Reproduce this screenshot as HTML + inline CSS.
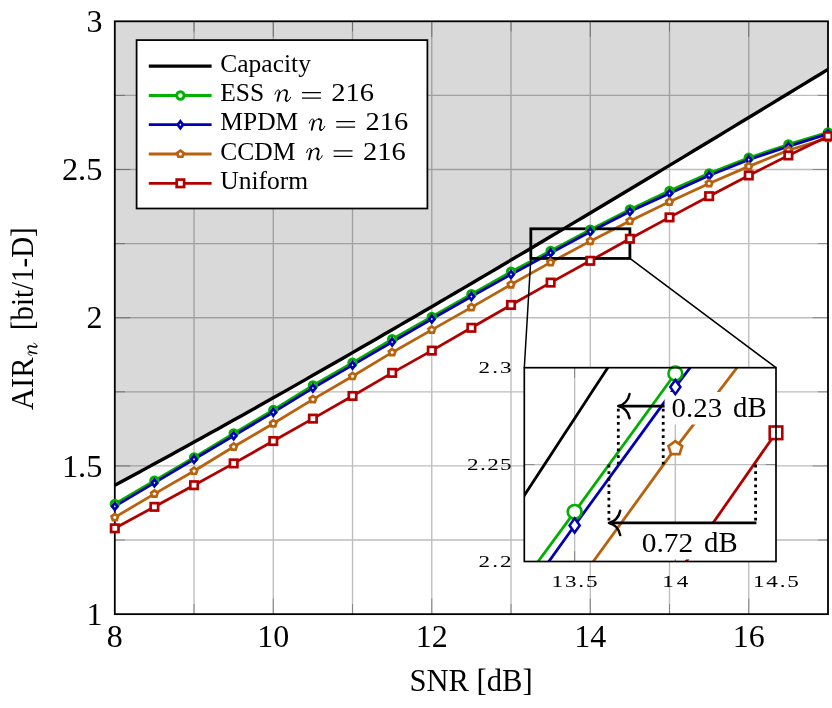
<!DOCTYPE html>
<html><head><meta charset="utf-8"><title>AIR vs SNR</title>
<style>html,body{margin:0;padding:0;background:#fff}svg{display:block;will-change:transform}</style></head>
<body>
<svg width="832" height="708" viewBox="0 0 832 708">
<defs>
<clipPath id="cm"><rect x="114.8" y="21.3" width="713.2" height="592.85"/></clipPath>
<clipPath id="ci"><rect x="524.3" y="367.7" width="251.7" height="193.8"/></clipPath>
</defs>
<rect width="832" height="708" fill="#fff"/>
<path d="M194.04 21.3V614.15M273.29 21.3V614.15M352.53 21.3V614.15M431.78 21.3V614.15M511.02 21.3V614.15M590.27 21.3V614.15M669.51 21.3V614.15M748.76 21.3V614.15M114.8 540.04H828M114.8 465.94H828M114.8 391.83H828M114.8 317.72H828M114.8 243.62H828M114.8 169.51H828M114.8 95.41H828" stroke="#bdbdbd" stroke-width="1.35" fill="none"/>
<path d="M194.04 21.3v10.2M194.04 614.15v-10.2M273.29 21.3v15.5M273.29 614.15v-15.5M352.53 21.3v10.2M352.53 614.15v-10.2M431.78 21.3v15.5M431.78 614.15v-15.5M511.02 21.3v10.2M511.02 614.15v-10.2M590.27 21.3v15.5M590.27 614.15v-15.5M669.51 21.3v10.2M669.51 614.15v-10.2M748.76 21.3v15.5M748.76 614.15v-15.5M114.8 540.04h10.2M828 540.04h-10.2M114.8 465.94h15.5M828 465.94h-15.5M114.8 391.83h10.2M828 391.83h-10.2M114.8 317.72h15.5M828 317.72h-15.5M114.8 243.62h10.2M828 243.62h-10.2M114.8 169.51h15.5M828 169.51h-15.5M114.8 95.41h10.2M828 95.41h-10.2" stroke="#7c7c7c" stroke-width="0.85" fill="none"/>
<path d="M114.8 485.24L122.72 480.98L130.65 476.71L138.57 472.43L146.5 468.13L154.42 463.82L162.35 459.5L170.27 455.17L178.2 450.83L186.12 446.47L194.04 442.1L201.97 437.73L209.89 433.34L217.82 428.94L225.74 424.52L233.67 420.1L241.59 415.67L249.52 411.23L257.44 406.78L265.36 402.32L273.29 397.84L281.21 393.36L289.14 388.87L297.06 384.37L304.99 379.87L312.91 375.35L320.84 370.83L328.76 366.29L336.68 361.75L344.61 357.2L352.53 352.64L360.46 348.08L368.38 343.51L376.31 338.93L384.23 334.34L392.16 329.75L400.08 325.14L408 320.54L415.93 315.92L423.85 311.3L431.78 306.67L439.7 302.04L447.63 297.4L455.55 292.75L463.48 288.1L471.4 283.44L479.32 278.77L487.25 274.1L495.17 269.43L503.1 264.75L511.02 260.06L518.95 255.37L526.87 250.67L534.8 245.97L542.72 241.27L550.64 236.56L558.57 231.84L566.49 227.12L574.42 222.4L582.34 217.67L590.27 212.94L598.19 208.2L606.12 203.46L614.04 198.71L621.96 193.96L629.89 189.21L637.81 184.45L645.74 179.69L653.66 174.93L661.59 170.16L669.51 165.39L677.44 160.62L685.36 155.84L693.28 151.06L701.21 146.27L709.13 141.49L717.06 136.7L724.98 131.9L732.91 127.11L740.83 122.31L748.76 117.51L756.68 112.7L764.6 107.9L772.53 103.09L780.45 98.28L788.38 93.46L796.3 88.64L804.23 83.83L812.15 79L820.08 74.18L828 69.35L828 21.3L114.8 21.3Z" fill="#000" fill-opacity="0.15"/>
<rect x="114.8" y="21.3" width="713.2" height="592.85" fill="none" stroke="#000" stroke-width="1.8"/>
<g clip-path="url(#cm)"><path d="M114.8 485.24L122.72 480.98L130.65 476.71L138.57 472.43L146.5 468.13L154.42 463.82L162.35 459.5L170.27 455.17L178.2 450.83L186.12 446.47L194.04 442.1L201.97 437.73L209.89 433.34L217.82 428.94L225.74 424.52L233.67 420.1L241.59 415.67L249.52 411.23L257.44 406.78L265.36 402.32L273.29 397.84L281.21 393.36L289.14 388.87L297.06 384.37L304.99 379.87L312.91 375.35L320.84 370.83L328.76 366.29L336.68 361.75L344.61 357.2L352.53 352.64L360.46 348.08L368.38 343.51L376.31 338.93L384.23 334.34L392.16 329.75L400.08 325.14L408 320.54L415.93 315.92L423.85 311.3L431.78 306.67L439.7 302.04L447.63 297.4L455.55 292.75L463.48 288.1L471.4 283.44L479.32 278.77L487.25 274.1L495.17 269.43L503.1 264.75L511.02 260.06L518.95 255.37L526.87 250.67L534.8 245.97L542.72 241.27L550.64 236.56L558.57 231.84L566.49 227.12L574.42 222.4L582.34 217.67L590.27 212.94L598.19 208.2L606.12 203.46L614.04 198.71L621.96 193.96L629.89 189.21L637.81 184.45L645.74 179.69L653.66 174.93L661.59 170.16L669.51 165.39L677.44 160.62L685.36 155.84L693.28 151.06L701.21 146.27L709.13 141.49L717.06 136.7L724.98 131.9L732.91 127.11L740.83 122.31L748.76 117.51L756.68 112.7L764.6 107.9L772.53 103.09L780.45 98.28L788.38 93.46L796.3 88.64L804.23 83.83L812.15 79L820.08 74.18L828 69.35" fill="none" stroke="#000" stroke-width="3.4" stroke-linejoin="round" /></g>
<path d="M114.8 503.88L154.42 480.76L194.04 457.34L233.67 433.33L273.29 410.06L312.91 385.46L352.53 362.78L392.16 339.25L431.78 316.84L471.4 294.13L511.02 271.78L550.64 250.85L590.27 229.69L629.89 209.53L669.51 190.86L709.13 173.37L748.76 157.71L788.38 144.46L828 132.46" fill="none" stroke="#00b000" stroke-width="2.8" stroke-linejoin="round" />
<path d="M114.8 506.4L154.42 482.89L194.04 459.3L233.67 435.7L273.29 412.28L312.91 388.07L352.53 365.15L392.16 342.03L431.78 319.06L471.4 296.53L511.02 274.45L550.64 252.93L590.27 231.76L629.89 211.6L669.51 193.37L709.13 175.56L748.76 159.73L788.38 146.39L828 133.94" fill="none" stroke="#0000b2" stroke-width="2.8" stroke-linejoin="round" />
<path d="M114.8 517.37L154.42 493.86L194.04 470.98L233.67 446.79L273.29 423.55L312.91 399.39L352.53 376.27L392.16 352.41L431.78 329.88L471.4 307.35L511.02 284.53L550.64 262.38L590.27 241.13L629.89 221L669.51 201.82L709.13 183.44L748.76 166.4L788.38 150.24L828 138.09" fill="none" stroke="#b8620e" stroke-width="2.8" stroke-linejoin="round" />
<path d="M114.8 528.33L154.42 506.84L194.04 485.21L233.67 463.39L273.29 441.04L312.91 418.63L352.53 395.98L392.16 372.86L431.78 350.63L471.4 327.8L511.02 304.98L550.64 282.6L590.27 260.81L629.89 238.76L669.51 217.39L709.13 196.19L748.76 175.44L788.38 155.43L828 136.16" fill="none" stroke="#b20000" stroke-width="2.8" stroke-linejoin="round" />
<rect x="530.83" y="228.8" width="99.06" height="29.64" fill="none" stroke="#000" stroke-width="2.8"/>
<circle cx="114.8" cy="503.88" r="3.7" fill="#fff" stroke="#00b000" stroke-width="3.0"/><circle cx="154.42" cy="480.76" r="3.7" fill="#fff" stroke="#00b000" stroke-width="3.0"/><circle cx="194.04" cy="457.34" r="3.7" fill="#fff" stroke="#00b000" stroke-width="3.0"/><circle cx="233.67" cy="433.33" r="3.7" fill="#fff" stroke="#00b000" stroke-width="3.0"/><circle cx="273.29" cy="410.06" r="3.7" fill="#fff" stroke="#00b000" stroke-width="3.0"/><circle cx="312.91" cy="385.46" r="3.7" fill="#fff" stroke="#00b000" stroke-width="3.0"/><circle cx="352.53" cy="362.78" r="3.7" fill="#fff" stroke="#00b000" stroke-width="3.0"/><circle cx="392.16" cy="339.25" r="3.7" fill="#fff" stroke="#00b000" stroke-width="3.0"/><circle cx="431.78" cy="316.84" r="3.7" fill="#fff" stroke="#00b000" stroke-width="3.0"/><circle cx="471.4" cy="294.13" r="3.7" fill="#fff" stroke="#00b000" stroke-width="3.0"/><circle cx="511.02" cy="271.78" r="3.7" fill="#fff" stroke="#00b000" stroke-width="3.0"/><circle cx="550.64" cy="250.85" r="3.7" fill="#fff" stroke="#00b000" stroke-width="3.0"/><circle cx="590.27" cy="229.69" r="3.7" fill="#fff" stroke="#00b000" stroke-width="3.0"/><circle cx="629.89" cy="209.53" r="3.7" fill="#fff" stroke="#00b000" stroke-width="3.0"/><circle cx="669.51" cy="190.86" r="3.7" fill="#fff" stroke="#00b000" stroke-width="3.0"/><circle cx="709.13" cy="173.37" r="3.7" fill="#fff" stroke="#00b000" stroke-width="3.0"/><circle cx="748.76" cy="157.71" r="3.7" fill="#fff" stroke="#00b000" stroke-width="3.0"/><circle cx="788.38" cy="144.46" r="3.7" fill="#fff" stroke="#00b000" stroke-width="3.0"/><circle cx="828" cy="132.46" r="3.7" fill="#fff" stroke="#00b000" stroke-width="3.0"/>
<path d="M114.8 502.95L117.4 506.4L114.8 509.85L112.2 506.4Z" fill="#fff" stroke="#0000b2" stroke-width="2.7" stroke-linejoin="miter"/><path d="M154.42 479.44L157.02 482.89L154.42 486.34L151.82 482.89Z" fill="#fff" stroke="#0000b2" stroke-width="2.7" stroke-linejoin="miter"/><path d="M194.04 455.85L196.64 459.3L194.04 462.75L191.44 459.3Z" fill="#fff" stroke="#0000b2" stroke-width="2.7" stroke-linejoin="miter"/><path d="M233.67 432.25L236.27 435.7L233.67 439.15L231.07 435.7Z" fill="#fff" stroke="#0000b2" stroke-width="2.7" stroke-linejoin="miter"/><path d="M273.29 408.83L275.89 412.28L273.29 415.73L270.69 412.28Z" fill="#fff" stroke="#0000b2" stroke-width="2.7" stroke-linejoin="miter"/><path d="M312.91 384.62L315.51 388.07L312.91 391.52L310.31 388.07Z" fill="#fff" stroke="#0000b2" stroke-width="2.7" stroke-linejoin="miter"/><path d="M352.53 361.7L355.13 365.15L352.53 368.6L349.93 365.15Z" fill="#fff" stroke="#0000b2" stroke-width="2.7" stroke-linejoin="miter"/><path d="M392.16 338.58L394.76 342.03L392.16 345.48L389.56 342.03Z" fill="#fff" stroke="#0000b2" stroke-width="2.7" stroke-linejoin="miter"/><path d="M431.78 315.61L434.38 319.06L431.78 322.51L429.18 319.06Z" fill="#fff" stroke="#0000b2" stroke-width="2.7" stroke-linejoin="miter"/><path d="M471.4 293.08L474 296.53L471.4 299.98L468.8 296.53Z" fill="#fff" stroke="#0000b2" stroke-width="2.7" stroke-linejoin="miter"/><path d="M511.02 271L513.62 274.45L511.02 277.9L508.42 274.45Z" fill="#fff" stroke="#0000b2" stroke-width="2.7" stroke-linejoin="miter"/><path d="M550.64 249.48L553.24 252.93L550.64 256.38L548.04 252.93Z" fill="#fff" stroke="#0000b2" stroke-width="2.7" stroke-linejoin="miter"/><path d="M590.27 228.31L592.87 231.76L590.27 235.21L587.67 231.76Z" fill="#fff" stroke="#0000b2" stroke-width="2.7" stroke-linejoin="miter"/><path d="M629.89 208.15L632.49 211.6L629.89 215.05L627.29 211.6Z" fill="#fff" stroke="#0000b2" stroke-width="2.7" stroke-linejoin="miter"/><path d="M669.51 189.92L672.11 193.37L669.51 196.82L666.91 193.37Z" fill="#fff" stroke="#0000b2" stroke-width="2.7" stroke-linejoin="miter"/><path d="M709.13 172.11L711.73 175.56L709.13 179.01L706.53 175.56Z" fill="#fff" stroke="#0000b2" stroke-width="2.7" stroke-linejoin="miter"/><path d="M748.76 156.28L751.36 159.73L748.76 163.18L746.16 159.73Z" fill="#fff" stroke="#0000b2" stroke-width="2.7" stroke-linejoin="miter"/><path d="M788.38 142.94L790.98 146.39L788.38 149.84L785.78 146.39Z" fill="#fff" stroke="#0000b2" stroke-width="2.7" stroke-linejoin="miter"/><path d="M828 130.49L830.6 133.94L828 137.39L825.4 133.94Z" fill="#fff" stroke="#0000b2" stroke-width="2.7" stroke-linejoin="miter"/>
<path d="M114.8 513.97L118.03 516.32L116.8 520.12L112.8 520.12L111.57 516.32Z" fill="#fff" stroke="#b8620e" stroke-width="2.7" stroke-linejoin="miter"/><path d="M154.42 490.46L157.66 492.81L156.42 496.61L152.42 496.61L151.19 492.81Z" fill="#fff" stroke="#b8620e" stroke-width="2.7" stroke-linejoin="miter"/><path d="M194.04 467.58L197.28 469.93L196.04 473.73L192.05 473.73L190.81 469.93Z" fill="#fff" stroke="#b8620e" stroke-width="2.7" stroke-linejoin="miter"/><path d="M233.67 443.39L236.9 445.74L235.67 449.54L231.67 449.54L230.43 445.74Z" fill="#fff" stroke="#b8620e" stroke-width="2.7" stroke-linejoin="miter"/><path d="M273.29 420.15L276.52 422.5L275.29 426.3L271.29 426.3L270.06 422.5Z" fill="#fff" stroke="#b8620e" stroke-width="2.7" stroke-linejoin="miter"/><path d="M312.91 395.99L316.14 398.34L314.91 402.14L310.91 402.14L309.68 398.34Z" fill="#fff" stroke="#b8620e" stroke-width="2.7" stroke-linejoin="miter"/><path d="M352.53 372.87L355.77 375.22L354.53 379.02L350.53 379.02L349.3 375.22Z" fill="#fff" stroke="#b8620e" stroke-width="2.7" stroke-linejoin="miter"/><path d="M392.16 349.01L395.39 351.36L394.15 355.16L390.16 355.16L388.92 351.36Z" fill="#fff" stroke="#b8620e" stroke-width="2.7" stroke-linejoin="miter"/><path d="M431.78 326.48L435.01 328.83L433.78 332.63L429.78 332.63L428.54 328.83Z" fill="#fff" stroke="#b8620e" stroke-width="2.7" stroke-linejoin="miter"/><path d="M471.4 303.95L474.63 306.3L473.4 310.1L469.4 310.1L468.17 306.3Z" fill="#fff" stroke="#b8620e" stroke-width="2.7" stroke-linejoin="miter"/><path d="M511.02 281.13L514.26 283.47L513.02 287.28L509.02 287.28L507.79 283.47Z" fill="#fff" stroke="#b8620e" stroke-width="2.7" stroke-linejoin="miter"/><path d="M550.64 258.98L553.88 261.33L552.64 265.13L548.65 265.13L547.41 261.33Z" fill="#fff" stroke="#b8620e" stroke-width="2.7" stroke-linejoin="miter"/><path d="M590.27 237.73L593.5 240.08L592.27 243.88L588.27 243.88L587.03 240.08Z" fill="#fff" stroke="#b8620e" stroke-width="2.7" stroke-linejoin="miter"/><path d="M629.89 217.6L633.12 219.95L631.89 223.75L627.89 223.75L626.66 219.95Z" fill="#fff" stroke="#b8620e" stroke-width="2.7" stroke-linejoin="miter"/><path d="M669.51 198.42L672.74 200.77L671.51 204.57L667.51 204.57L666.28 200.77Z" fill="#fff" stroke="#b8620e" stroke-width="2.7" stroke-linejoin="miter"/><path d="M709.13 180.04L712.37 182.39L711.13 186.2L707.13 186.2L705.9 182.39Z" fill="#fff" stroke="#b8620e" stroke-width="2.7" stroke-linejoin="miter"/><path d="M748.76 163L751.99 165.35L750.75 169.15L746.76 169.15L745.52 165.35Z" fill="#fff" stroke="#b8620e" stroke-width="2.7" stroke-linejoin="miter"/><path d="M788.38 146.84L791.61 149.19L790.38 153L786.38 153L785.14 149.19Z" fill="#fff" stroke="#b8620e" stroke-width="2.7" stroke-linejoin="miter"/><path d="M828 134.69L831.23 137.04L830 140.84L826 140.84L824.77 137.04Z" fill="#fff" stroke="#b8620e" stroke-width="2.7" stroke-linejoin="miter"/>
<rect x="111.08" y="524.61" width="7.44" height="7.44" fill="#fff" stroke="#b20000" stroke-width="2.7"/><rect x="150.7" y="503.12" width="7.44" height="7.44" fill="#fff" stroke="#b20000" stroke-width="2.7"/><rect x="190.32" y="481.49" width="7.44" height="7.44" fill="#fff" stroke="#b20000" stroke-width="2.7"/><rect x="229.95" y="459.67" width="7.44" height="7.44" fill="#fff" stroke="#b20000" stroke-width="2.7"/><rect x="269.57" y="437.32" width="7.44" height="7.44" fill="#fff" stroke="#b20000" stroke-width="2.7"/><rect x="309.19" y="414.91" width="7.44" height="7.44" fill="#fff" stroke="#b20000" stroke-width="2.7"/><rect x="348.81" y="392.26" width="7.44" height="7.44" fill="#fff" stroke="#b20000" stroke-width="2.7"/><rect x="388.44" y="369.14" width="7.44" height="7.44" fill="#fff" stroke="#b20000" stroke-width="2.7"/><rect x="428.06" y="346.91" width="7.44" height="7.44" fill="#fff" stroke="#b20000" stroke-width="2.7"/><rect x="467.68" y="324.08" width="7.44" height="7.44" fill="#fff" stroke="#b20000" stroke-width="2.7"/><rect x="507.3" y="301.26" width="7.44" height="7.44" fill="#fff" stroke="#b20000" stroke-width="2.7"/><rect x="546.92" y="278.88" width="7.44" height="7.44" fill="#fff" stroke="#b20000" stroke-width="2.7"/><rect x="586.55" y="257.09" width="7.44" height="7.44" fill="#fff" stroke="#b20000" stroke-width="2.7"/><rect x="626.17" y="235.04" width="7.44" height="7.44" fill="#fff" stroke="#b20000" stroke-width="2.7"/><rect x="665.79" y="213.67" width="7.44" height="7.44" fill="#fff" stroke="#b20000" stroke-width="2.7"/><rect x="705.41" y="192.47" width="7.44" height="7.44" fill="#fff" stroke="#b20000" stroke-width="2.7"/><rect x="745.04" y="171.72" width="7.44" height="7.44" fill="#fff" stroke="#b20000" stroke-width="2.7"/><rect x="784.66" y="151.71" width="7.44" height="7.44" fill="#fff" stroke="#b20000" stroke-width="2.7"/><rect x="824.28" y="132.44" width="7.44" height="7.44" fill="#fff" stroke="#b20000" stroke-width="2.7"/>
<path d="M530.83 258.44L524.3 367.7M629.89 258.44L776 367.7" stroke="#000" stroke-width="1.5" fill="none"/>
<rect x="524.3" y="367.7" width="251.7" height="193.8" fill="#fff"/>
<path d="M574.64 367.7V561.5M675.32 367.7V561.5M524.3 464.6H776" stroke="#bdbdbd" stroke-width="1.35" fill="none"/>
<path d="M574.64 367.7v10.2M574.64 561.5v-10.2M675.32 367.7v10.2M675.32 561.5v-10.2M524.3 464.6h10.2M776 464.6h-10.2" stroke="#7c7c7c" stroke-width="0.85" fill="none"/>
<g clip-path="url(#ci)">
<path d="M473.96 572.1L484.03 556.77L494.1 541.43L504.16 526.08L514.23 510.73L524.3 495.37L534.37 479.99L544.44 464.61L554.5 449.23L564.57 433.83L574.64 418.43L584.71 403.02L594.78 387.6L604.84 372.18L614.91 356.74L624.98 341.3L635.05 325.86L645.12 310.4L655.18 294.94L665.25 279.47L675.32 264L685.39 248.52L695.46 233.03L705.52 217.53L715.59 202.03L725.66 186.52L735.73 171.01L745.8 155.48L755.86 139.96L765.93 124.42L776 108.88L786.07 93.34L796.14 77.78L806.2 62.23L816.27 46.66L826.34 31.09L836.41 15.52L846.48 -0.07L856.54 -15.65L866.61 -31.25" fill="none" stroke="#000" stroke-width="2.8" stroke-linejoin="round" />
<path d="M373.28 794.84L473.96 648.71L574.64 511.89L675.32 373.51L776 241.73L876.68 119.64L977.36 5.29" fill="none" stroke="#00b000" stroke-width="2.8" stroke-linejoin="round" />
<path d="M373.28 810.53L473.96 666.15L574.64 525.45L675.32 387.08L776 255.3L876.68 136.11L977.36 19.64" fill="none" stroke="#0000b2" stroke-width="2.8" stroke-linejoin="round" />
<path d="M373.28 881.27L473.96 732.04L574.64 587.28L675.32 448.32L776 316.73L876.68 191.34L977.36 71.19" fill="none" stroke="#b8620e" stroke-width="2.8" stroke-linejoin="round" />
<path d="M373.28 1014.99L473.96 865.77L574.64 719.45L675.32 577L776 432.82L876.68 293.09L977.36 154.52" fill="none" stroke="#b20000" stroke-width="2.8" stroke-linejoin="round" />
<rect x="669.22" y="570.9" width="12.2" height="12.2" fill="#fff" stroke="#b20000" stroke-width="2.6"/>
</g>
<rect x="664.6" y="392" width="105" height="32.5" fill="#fff"/>
<rect x="633" y="523.5" width="112" height="35.9" fill="#fff"/>
<path d="M618.3 464.6V406.1" stroke="#000" stroke-width="2.8" stroke-dasharray="2.8 3.83" fill="none"/>
<path d="M663.2 464.6V406.1" stroke="#000" stroke-width="2.8" stroke-dasharray="2.8 3.83" fill="none"/>
<path d="M608.9 464.6V522.9" stroke="#000" stroke-width="2.8" stroke-dasharray="2.8 3.83" fill="none"/>
<path d="M755.6 464.6V522.9" stroke="#000" stroke-width="2.8" stroke-dasharray="2.8 3.83" fill="none"/>
<path d="M664.6 406.1H619.3" stroke="#000" stroke-width="2.8" fill="none"/><path d="M629.6 393.9C628.6 400.1 623.8 405.2 618.3 406.1C623.8 407 628.6 412.1 629.6 418.3" stroke="#000" stroke-width="2.5" fill="none" stroke-linecap="round" stroke-linejoin="round"/>
<path d="M756.4 522.9H609.9" stroke="#000" stroke-width="2.8" fill="none"/><path d="M620.2 510.7C619.2 516.9 614.4 522 608.9 522.9C614.4 523.8 619.2 528.9 620.2 535.1" stroke="#000" stroke-width="2.5" fill="none" stroke-linecap="round" stroke-linejoin="round"/>
<circle cx="574.64" cy="511.89" r="6.9" fill="#fff" stroke="#00b000" stroke-width="2.6"/>
<circle cx="675.32" cy="373.51" r="6.9" fill="#fff" stroke="#00b000" stroke-width="2.6"/>
<path d="M574.64 518.35L579.74 525.45L574.64 532.55L569.54 525.45Z" fill="#fff" stroke="#0000b2" stroke-width="2.5" stroke-linejoin="miter"/>
<path d="M675.32 379.98L680.42 387.08L675.32 394.18L670.22 387.08Z" fill="#fff" stroke="#0000b2" stroke-width="2.5" stroke-linejoin="miter"/>
<path d="M675.32 441.12L682.17 446.1L679.55 454.15L671.09 454.15L668.47 446.1Z" fill="#fff" stroke="#b8620e" stroke-width="2.6" stroke-linejoin="miter"/>
<rect x="769.7" y="426.52" width="12.6" height="12.6" fill="#fff" stroke="#b20000" stroke-width="2.6"/>
<rect x="524.3" y="367.7" width="251.7" height="193.8" fill="none" stroke="#000" stroke-width="1.7"/>
<rect x="136.6" y="40.1" width="290.8" height="168.4" fill="#fff" stroke="#000" stroke-width="1.75"/>
<path d="M148.8 66.1H211.6" stroke="#000" stroke-width="3.4"/>
<path d="M148.8 95.5H211.6" stroke="#00b000" stroke-width="2.8"/>
<path d="M148.8 124.7H211.6" stroke="#0000b2" stroke-width="2.8"/>
<path d="M148.8 154.0H211.6" stroke="#b8620e" stroke-width="2.8"/>
<path d="M148.8 183.3H211.6" stroke="#b20000" stroke-width="2.8"/>
<circle cx="180.4" cy="95.5" r="3.7" fill="#fff" stroke="#00b000" stroke-width="3.0"/>
<path d="M180.4 121.25L183 124.7L180.4 128.15L177.8 124.7Z" fill="#fff" stroke="#0000b2" stroke-width="2.7" stroke-linejoin="miter"/>
<path d="M180.4 150.6L183.63 152.95L182.4 156.75L178.4 156.75L177.17 152.95Z" fill="#fff" stroke="#b8620e" stroke-width="2.7" stroke-linejoin="miter"/>
<rect x="176.68" y="179.58" width="7.44" height="7.44" fill="#fff" stroke="#b20000" stroke-width="2.7"/>
<g font-family="'Liberation Serif', serif" fill="#000">
<text x="220.3" y="72" font-size="25.5" >Capacity</text>
<text x="220.3" y="101.3" font-size="25.5" >ESS</text>
<g transform="translate(274.6,101.6) scale(1.0)"><path d="M0.4,-7.3C1.2,-9.9 2.3,-11.6 3.6,-11.6C4.8,-11.6 5.2,-10.6 4.9,-9.3" stroke="#000" stroke-width="1.0" fill="none" stroke-linecap="round" stroke-linejoin="round"/><path d="M4.95,-9.6L2.9,-0.7" stroke="#000" stroke-width="1.9" fill="none" stroke-linecap="round" stroke-linejoin="round"/><path d="M4.3,-6.6C5.6,-9.6 7.9,-11.6 10.0,-11.6" stroke="#000" stroke-width="1.0" fill="none" stroke-linecap="round" stroke-linejoin="round"/><path d="M10.0,-11.5C12.1,-11.5 12.8,-10.2 12.3,-8.2L11.2,-3.5C10.8,-1.6 11.2,-0.5 12.3,-0.5" stroke="#000" stroke-width="1.8" fill="none" stroke-linecap="round" stroke-linejoin="round"/><path d="M12.3,-0.4C13.8,-0.4 15.2,-2 16.0,-4.3" stroke="#000" stroke-width="1.0" fill="none" stroke-linecap="round" stroke-linejoin="round"/></g><path d="M302 92.5h18.9M302 98h18.9" stroke="#000" stroke-width="1.25" fill="none"/><text x="331.3" y="101.3" font-size="25.8" textLength="42.8" lengthAdjust="spacingAndGlyphs">216</text>
<text x="220.3" y="130.3" font-size="25.5" >MPDM</text>
<g transform="translate(308.8,130.6) scale(1.0)"><path d="M0.4,-7.3C1.2,-9.9 2.3,-11.6 3.6,-11.6C4.8,-11.6 5.2,-10.6 4.9,-9.3" stroke="#000" stroke-width="1.0" fill="none" stroke-linecap="round" stroke-linejoin="round"/><path d="M4.95,-9.6L2.9,-0.7" stroke="#000" stroke-width="1.9" fill="none" stroke-linecap="round" stroke-linejoin="round"/><path d="M4.3,-6.6C5.6,-9.6 7.9,-11.6 10.0,-11.6" stroke="#000" stroke-width="1.0" fill="none" stroke-linecap="round" stroke-linejoin="round"/><path d="M10.0,-11.5C12.1,-11.5 12.8,-10.2 12.3,-8.2L11.2,-3.5C10.8,-1.6 11.2,-0.5 12.3,-0.5" stroke="#000" stroke-width="1.8" fill="none" stroke-linecap="round" stroke-linejoin="round"/><path d="M12.3,-0.4C13.8,-0.4 15.2,-2 16.0,-4.3" stroke="#000" stroke-width="1.0" fill="none" stroke-linecap="round" stroke-linejoin="round"/></g><path d="M336.2 121.5h18.9M336.2 127h18.9" stroke="#000" stroke-width="1.25" fill="none"/><text x="365.5" y="130.3" font-size="25.8" textLength="42.8" lengthAdjust="spacingAndGlyphs">216</text>
<text x="220.3" y="159.7" font-size="25.5" >CCDM</text>
<g transform="translate(306.2,160) scale(1.0)"><path d="M0.4,-7.3C1.2,-9.9 2.3,-11.6 3.6,-11.6C4.8,-11.6 5.2,-10.6 4.9,-9.3" stroke="#000" stroke-width="1.0" fill="none" stroke-linecap="round" stroke-linejoin="round"/><path d="M4.95,-9.6L2.9,-0.7" stroke="#000" stroke-width="1.9" fill="none" stroke-linecap="round" stroke-linejoin="round"/><path d="M4.3,-6.6C5.6,-9.6 7.9,-11.6 10.0,-11.6" stroke="#000" stroke-width="1.0" fill="none" stroke-linecap="round" stroke-linejoin="round"/><path d="M10.0,-11.5C12.1,-11.5 12.8,-10.2 12.3,-8.2L11.2,-3.5C10.8,-1.6 11.2,-0.5 12.3,-0.5" stroke="#000" stroke-width="1.8" fill="none" stroke-linecap="round" stroke-linejoin="round"/><path d="M12.3,-0.4C13.8,-0.4 15.2,-2 16.0,-4.3" stroke="#000" stroke-width="1.0" fill="none" stroke-linecap="round" stroke-linejoin="round"/></g><path d="M333.6 150.9h18.9M333.6 156.4h18.9" stroke="#000" stroke-width="1.25" fill="none"/><text x="362.9" y="159.7" font-size="25.8" textLength="42.8" lengthAdjust="spacingAndGlyphs">216</text>
<text x="220.3" y="188.8" font-size="25.5" >Uniform</text>
<text x="114.8" y="646.5" font-size="30.8" text-anchor="middle" textLength="16.0" lengthAdjust="spacingAndGlyphs">8</text>
<text x="273.29" y="646.5" font-size="30.8" text-anchor="middle" textLength="32.0" lengthAdjust="spacingAndGlyphs">10</text>
<text x="431.78" y="646.5" font-size="30.8" text-anchor="middle" textLength="32.0" lengthAdjust="spacingAndGlyphs">12</text>
<text x="590.27" y="646.5" font-size="30.8" text-anchor="middle" textLength="32.0" lengthAdjust="spacingAndGlyphs">14</text>
<text x="748.76" y="646.5" font-size="30.8" text-anchor="middle" textLength="32.0" lengthAdjust="spacingAndGlyphs">16</text>
<text x="86.4" y="624.85" font-size="30.8" textLength="16" lengthAdjust="spacingAndGlyphs">1</text>
<text x="61.9" y="476.64" font-size="30.8" textLength="40.5" lengthAdjust="spacingAndGlyphs">1.5</text>
<text x="86.4" y="328.42" font-size="30.8" textLength="16" lengthAdjust="spacingAndGlyphs">2</text>
<text x="61.9" y="180.21" font-size="30.8" textLength="40.5" lengthAdjust="spacingAndGlyphs">2.5</text>
<text x="86.4" y="32" font-size="30.8" textLength="16" lengthAdjust="spacingAndGlyphs">3</text>
<text x="471" y="691" font-size="30.6" text-anchor="middle">SNR [dB]</text>
<g transform="translate(32.6,410.1) rotate(-90)"><text x="0" y="0" font-size="30.6">AIR</text><g transform="translate(54.2,4.6) scale(0.8)"><path d="M0.4,-7.3C1.2,-9.9 2.3,-11.6 3.6,-11.6C4.8,-11.6 5.2,-10.6 4.9,-9.3" stroke="#000" stroke-width="1.0" fill="none" stroke-linecap="round" stroke-linejoin="round"/><path d="M4.95,-9.6L2.9,-0.7" stroke="#000" stroke-width="1.9" fill="none" stroke-linecap="round" stroke-linejoin="round"/><path d="M4.3,-6.6C5.6,-9.6 7.9,-11.6 10.0,-11.6" stroke="#000" stroke-width="1.0" fill="none" stroke-linecap="round" stroke-linejoin="round"/><path d="M10.0,-11.5C12.1,-11.5 12.8,-10.2 12.3,-8.2L11.2,-3.5C10.8,-1.6 11.2,-0.5 12.3,-0.5" stroke="#000" stroke-width="1.8" fill="none" stroke-linecap="round" stroke-linejoin="round"/><path d="M12.3,-0.4C13.8,-0.4 15.2,-2 16.0,-4.3" stroke="#000" stroke-width="1.0" fill="none" stroke-linecap="round" stroke-linejoin="round"/></g><text x="79.9" y="0" font-size="30.6" textLength="102.9" lengthAdjust="spacingAndGlyphs">[bit/1-D]</text></g>
<text transform="translate(478.6,373.1) scale(1.33,1)" font-size="17.4" textLength="24.81" lengthAdjust="spacing">2.3</text>
<text transform="translate(467.1,470) scale(1.33,1)" font-size="17.4" textLength="33.46" lengthAdjust="spacing">2.25</text>
<text transform="translate(478.6,566.9) scale(1.33,1)" font-size="17.4" textLength="24.81" lengthAdjust="spacing">2.2</text>
<text transform="translate(551.54,587) scale(1.33,1)" font-size="17.4" textLength="34.59" lengthAdjust="spacing">13.5</text>
<text transform="translate(662.22,587) scale(1.33,1)" font-size="17.4" textLength="19.55" lengthAdjust="spacing">14</text>
<text transform="translate(752.9,587) scale(1.33,1)" font-size="17.4" textLength="34.59" lengthAdjust="spacing">14.5</text>
<text x="671.6" y="416.5" font-size="28.2" textLength="50.5" lengthAdjust="spacingAndGlyphs">0.23</text><text x="733" y="416.5" font-size="28.8">dB</text>
<text x="641.7" y="551.9" font-size="28.2" textLength="51.5" lengthAdjust="spacingAndGlyphs">0.72</text><text x="704" y="551.9" font-size="28.8">dB</text>
</g>
</svg>
</body></html>
